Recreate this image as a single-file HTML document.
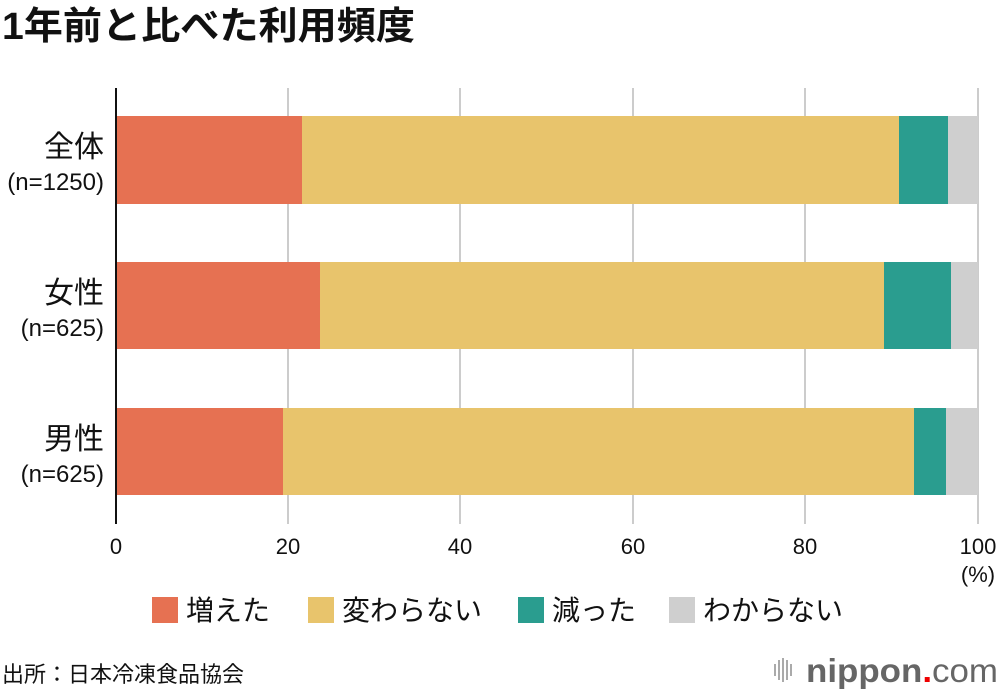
<!DOCTYPE html>
<html><head><meta charset="utf-8"><style>
body{margin:0;background:#fff;width:1000px;height:694px;overflow:hidden;font-family:"Liberation Sans","Noto Sans CJK JP",sans-serif;}
</style></head><body>
<svg width="1000" height="694" xmlns="http://www.w3.org/2000/svg" font-family="Liberation Sans, Noto Sans CJK JP, sans-serif">
<text x="2" y="39" font-size="38" font-weight="bold" fill="#111" textLength="413" lengthAdjust="spacingAndGlyphs">1年前と比べた利用頻度</text>
<g stroke="#ccc" stroke-width="2">
<line x1="288" y1="88" x2="288" y2="524"/><line x1="460" y1="88" x2="460" y2="524"/>
<line x1="633" y1="88" x2="633" y2="524"/><line x1="805" y1="88" x2="805" y2="524"/>
<line x1="978" y1="88" x2="978" y2="524"/>
</g>
<g>
<rect x="116" y="116" width="186" height="88" fill="#e67152"/><rect x="302" y="116" width="597" height="88" fill="#e8c46c"/><rect x="899" y="116" width="49" height="88" fill="#2a9d8f"/><rect x="948" y="116" width="30" height="88" fill="#cfcfcf"/>
<rect x="116" y="262" width="204" height="87" fill="#e67152"/><rect x="320" y="262" width="564" height="87" fill="#e8c46c"/><rect x="884" y="262" width="67" height="87" fill="#2a9d8f"/><rect x="951" y="262" width="27" height="87" fill="#cfcfcf"/>
<rect x="116" y="408" width="167" height="87" fill="#e67152"/><rect x="283" y="408" width="631" height="87" fill="#e8c46c"/><rect x="914" y="408" width="32" height="87" fill="#2a9d8f"/><rect x="946" y="408" width="32" height="87" fill="#cfcfcf"/>
</g>
<line x1="116" y1="88" x2="116" y2="524" stroke="#111" stroke-width="2"/>
<g font-size="30" fill="#111" text-anchor="end">
<text x="104" y="157">全体</text><text x="104" y="190" font-size="24">(n=1250)</text>
<text x="104" y="303">女性</text><text x="104" y="336" font-size="24">(n=625)</text>
<text x="104" y="449">男性</text><text x="104" y="482" font-size="24">(n=625)</text>
</g>
<g font-size="22" fill="#111" text-anchor="middle">
<text x="116" y="554">0</text><text x="288" y="554">20</text><text x="460" y="554">40</text><text x="633" y="554">60</text><text x="805" y="554">80</text><text x="978" y="554">100</text>
<text x="978" y="582">(%)</text>
</g>
<g font-size="28" fill="#111">
<rect x="152" y="597" width="26" height="26" fill="#e67152"/><text x="186" y="620">増えた</text>
<rect x="308" y="597" width="26" height="26" fill="#e8c46c"/><text x="342" y="620">変わらない</text>
<rect x="518" y="597" width="26" height="26" fill="#2a9d8f"/><text x="552" y="620">減った</text>
<rect x="669" y="597" width="26" height="26" fill="#cfcfcf"/><text x="703" y="620">わからない</text>
</g>
<text x="2" y="682" font-size="22" fill="#111">出所：日本冷凍食品協会</text>
<g stroke="#aaa" stroke-width="2">
<line x1="775" y1="664" x2="775" y2="676"/><line x1="779" y1="660" x2="779" y2="680"/><line x1="783" y1="658" x2="783" y2="682"/><line x1="787" y1="660" x2="787" y2="680"/><line x1="791" y1="664" x2="791" y2="676"/>
</g>
<text x="806" y="682" font-size="33" fill="#666" font-weight="bold" textLength="192" lengthAdjust="spacingAndGlyphs">nippon<tspan fill="#e00">.</tspan><tspan font-weight="normal">com</tspan></text>
</svg>
</body></html>
